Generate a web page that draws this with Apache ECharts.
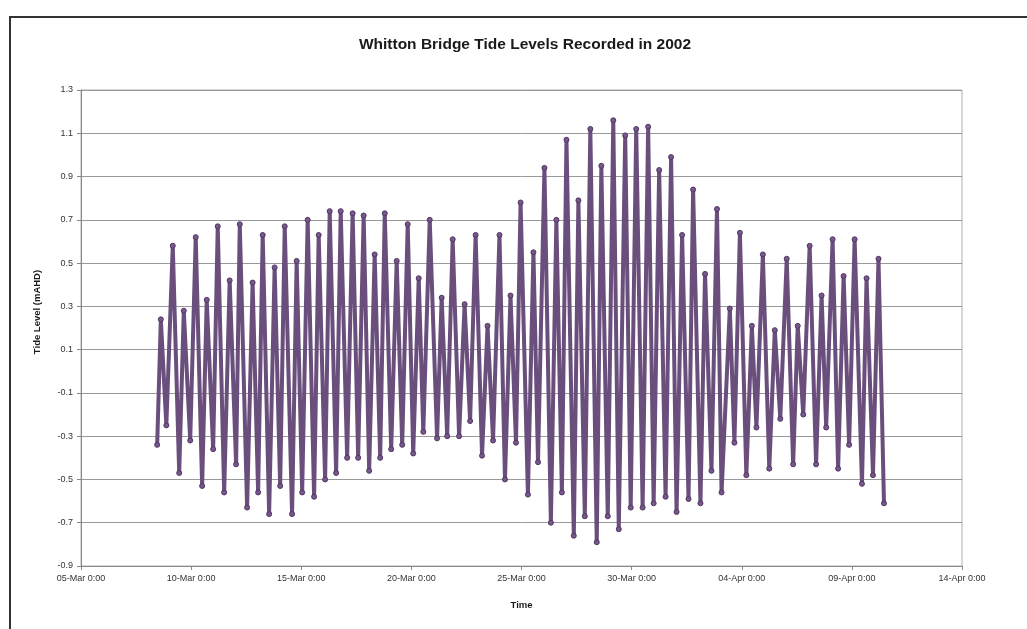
<!DOCTYPE html>
<html>
<head>
<meta charset="utf-8">
<title>Whitton Bridge Tide Levels</title>
<script src="https://cdn.jsdelivr.net/npm/echarts@6/dist/echarts.min.js"></script>
<style>
  html, body { margin: 0; padding: 0; background: #fff; }
  #chart { width: 1027px; height: 629px; }
</style>
</head>
<body>
<div id="chart"></div>
<script>
// hours since 05-Mar-2002 0:00, alternating low / high turning points
var tideHours = [
  83,
  87, 93, 100, 107, 112, 119, 125, 132, 137, 144, 149, 156, 162, 169, 173, 181,
  187, 193, 198, 205, 211, 217, 222, 230, 235, 241, 247, 254, 259, 266, 271, 278,
  283, 290, 296, 302, 308, 314, 320, 326, 331, 338, 344, 350, 356, 362, 368, 373,
  380, 388, 393, 399, 405, 412, 418, 424, 430, 437, 443, 449, 456, 462, 468, 474,
  479, 487, 493, 498, 505, 512, 518, 524, 529, 537, 542, 549, 555, 562, 567, 574,
  580, 586, 593, 599, 605, 612, 618, 624, 630, 637, 643, 649, 655, 662, 667, 675,
  680, 687, 693, 698, 707, 712, 718, 725, 731, 736, 743, 750, 756, 762, 769, 776,
  781, 787, 794, 801, 807, 812, 819, 825, 831, 837, 843, 851, 856, 863, 869, 875
];
var tideLevels = [
  -0.34,
  0.24, -0.25, 0.58, -0.47, 0.28, -0.32, 0.62, -0.53, 0.33, -0.36, 0.67, -0.56, 0.42, -0.43, 0.68, -0.63,
  0.41, -0.56, 0.63, -0.66, 0.48, -0.53, 0.67, -0.66, 0.51, -0.56, 0.70, -0.58, 0.63, -0.50, 0.74, -0.47,
  0.74, -0.40, 0.73, -0.40, 0.72, -0.46, 0.54, -0.40, 0.73, -0.36, 0.51, -0.34, 0.68, -0.38, 0.43, -0.28,
  0.70, -0.31, 0.34, -0.30, 0.61, -0.30, 0.31, -0.23, 0.63, -0.39, 0.21, -0.32, 0.63, -0.50, 0.35, -0.33,
  0.78, -0.57, 0.55, -0.42, 0.94, -0.70, 0.70, -0.56, 1.07, -0.76, 0.79, -0.67, 1.12, -0.79, 0.95, -0.67,
  1.16, -0.73, 1.09, -0.63, 1.12, -0.63, 1.13, -0.61, 0.93, -0.58, 0.99, -0.65, 0.63, -0.59, 0.84, -0.61,
  0.45, -0.46, 0.75, -0.56, 0.29, -0.33, 0.64, -0.48, 0.21, -0.26, 0.54, -0.45, 0.19, -0.22, 0.52, -0.43,
  0.21, -0.20, 0.58, -0.43, 0.35, -0.26, 0.61, -0.45, 0.44, -0.34, 0.61, -0.52, 0.43, -0.48, 0.52, -0.61
];
var monthNames = ["Jan", "Feb", "Mar", "Apr", "May", "Jun", "Jul", "Aug", "Sep", "Oct", "Nov", "Dec"];
var startTime = Date.UTC(2002, 2, 5);

function hourLabel(h) {
  var d = new Date(startTime + h * 3600 * 1000);
  var day = d.getUTCDate();
  return (day < 10 ? "0" + day : day) + "-" + monthNames[d.getUTCMonth()] + " " + d.getUTCHours() + ":00";
}

var seriesData = tideHours.map(function(h, i) {
  return [h, tideLevels[i]];
});

var chart = echarts.init(document.getElementById("chart"));
var font = "'Liberation Sans', Arial, sans-serif";

var option = {
  backgroundColor: "#fff",
  animation: false,
  title: {
    text: "Whitton Bridge Tide Levels Recorded in 2002",
    left: 520,
    textAlign: "center",
    top: 32,
    textStyle: {
      fontFamily: font,
      fontSize: 15.5,
      fontWeight: "bold",
      color: "#1a1a1a"
    }
  },
  graphic: [
    {
      type: "rect",
      shape: { x: 10, y: 17, width: 1040, height: 640 },
      style: { fill: "none", stroke: "#333", lineWidth: 2 },
      silent: true
    },
    {
      // y axis title, sits a little above the plot middle as in the original
      type: "text",
      x: 37,
      y: 312,
      rotation: Math.PI / 2,
      style: {
        text: "Tide Level (mAHD)",
        fontFamily: font,
        fontSize: 9.5,
        fontWeight: "bold",
        fill: "#1a1a1a",
        align: "center",
        verticalAlign: "middle"
      }
    }
  ],
  grid: {
    left: 81,
    right: 65,
    top: 90,
    bottom: 63,
    show: true,
    borderColor: "#b0b0b0",
    borderWidth: 1
  },
  xAxis: {
    type: "value",
    min: 0,
    max: 960,
    interval: 120,
    name: "Time",
    nameLocation: "middle",
    nameGap: 34,
    nameTextStyle: {
      fontFamily: font,
      fontSize: 9.5,
      fontWeight: "bold",
      color: "#1a1a1a"
    },
    axisLine: { onZero: false, lineStyle: { color: "#888" } },
    axisTick: { show: true, length: 4, lineStyle: { color: "#888" } },
    splitLine: { show: false },
    axisLabel: {
      fontFamily: font,
      fontSize: 9,
      color: "#333",
      margin: 8,
      formatter: hourLabel
    }
  },
  yAxis: {
    type: "value",
    min: -0.9,
    max: 1.3,
    interval: 0.2,
    axisLine: { show: true, lineStyle: { color: "#888" } },
    axisTick: { show: true, length: 4, lineStyle: { color: "#888" } },
    splitLine: { show: true, lineStyle: { color: "#999", width: 1 } },
    axisLabel: {
      fontFamily: font,
      fontSize: 9,
      color: "#333",
      margin: 8,
      formatter: function(v) {
        return v.toFixed(1);
      }
    }
  },
  series: [
    {
      type: "line",
      data: seriesData,
      symbol: "circle",
      symbolSize: 5,
      showAllSymbol: true,
      lineStyle: { width: 4, color: "#6a4f7d" },
      itemStyle: { color: "#7a5590", borderColor: "#4e3a5e", borderWidth: 1 }
    }
  ]
};
chart.setOption(option);
</script>
</body>
</html>
